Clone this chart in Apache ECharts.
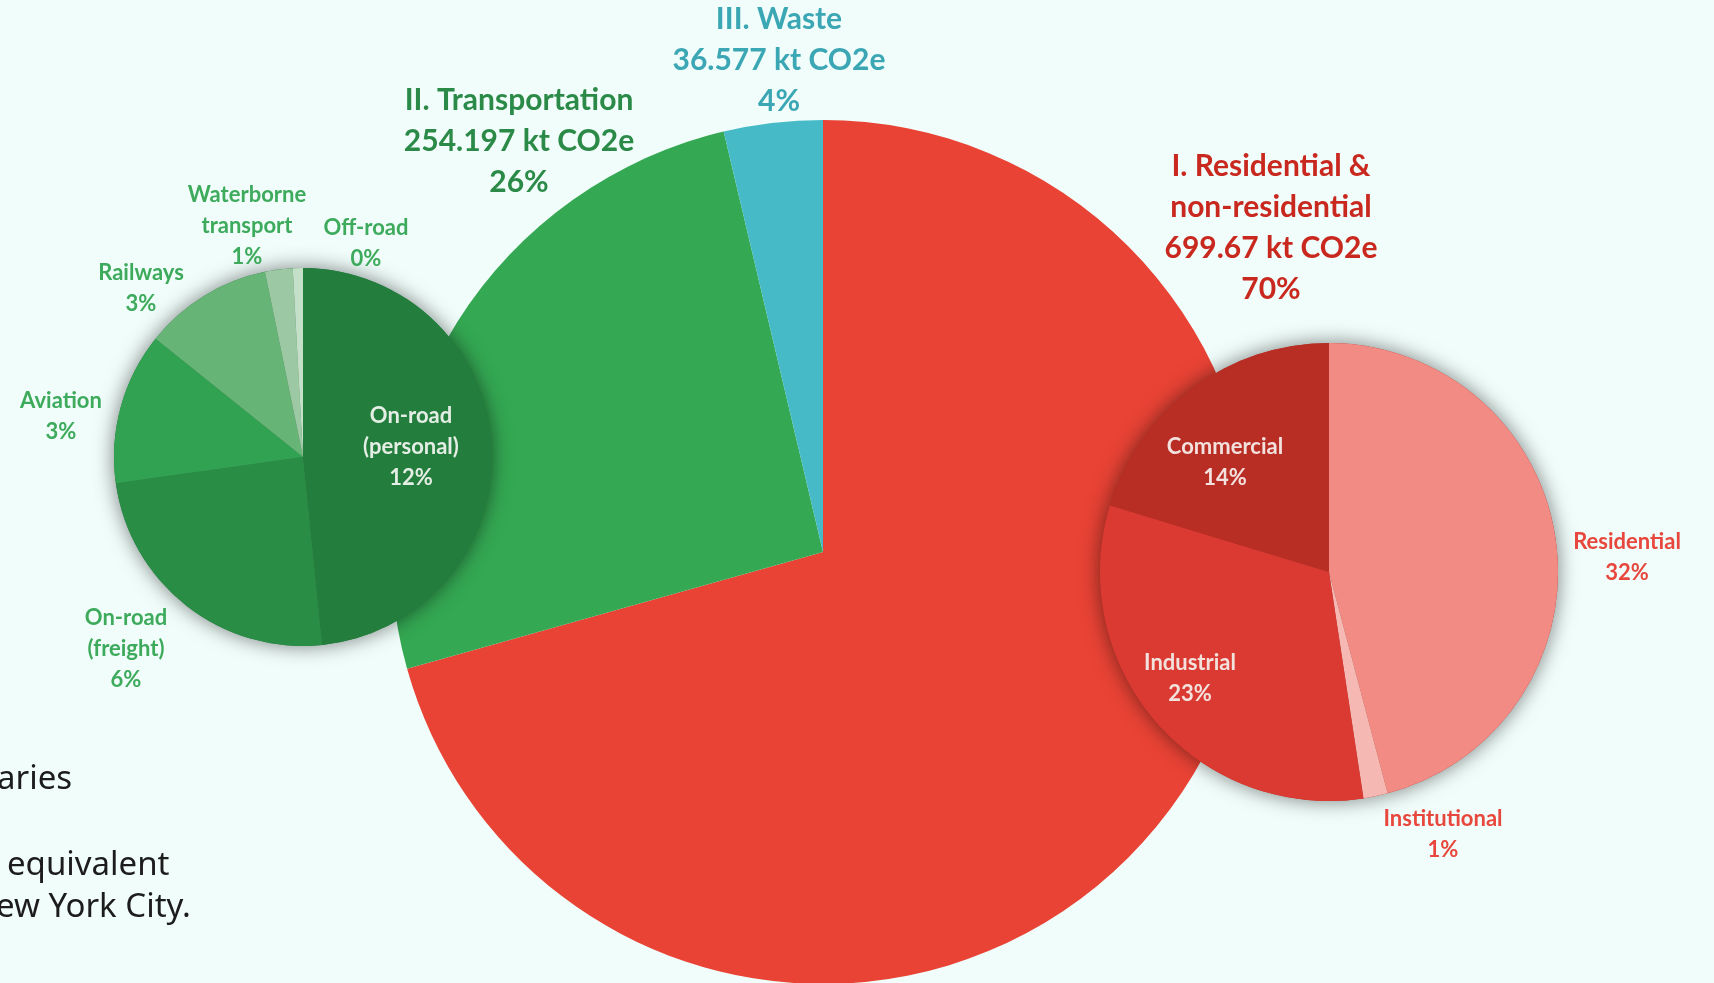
<!DOCTYPE html>
<html>
<head>
<meta charset="utf-8">
<script src="https://cdn.jsdelivr.net/npm/echarts@6/dist/echarts.min.js"></script>
<style>
html,body{margin:0;padding:0;background:#F0FDFA;}
#chart{width:1714px;height:983px;}
</style>
</head>
<body>
<div id="chart"></div>
<script>
// ---- data ----
const mainNames = ['I. Residential &\nnon-residential', 'II. Transportation', 'III. Waste'];
const mainValues = [699.67, 254.197, 36.577];
const mainPct = ['70%', '26%', '4%'];

const transportNames = ['On-road\n(personal)', 'On-road\n(freight)', 'Aviation', 'Railways', 'Waterborne\ntransport', 'Off-road'];
const transportValues = [123, 62, 33, 28, 6, 2.2];
const transportPct = ['12%', '6%', '3%', '3%', '1%', '0%'];

const buildingNames = ['Residential', 'Institutional', 'Industrial', 'Commercial'];
const buildingValues = [321, 12, 224.67, 142];
const buildingPct = ['32%', '1%', '23%', '14%'];

const noteLines = ['aries', 'equivalent', 'ew York City.'];

// ---- styles ----
const mainColors = ['#E94335', '#34A853', '#46BBC7'];
const mainLabelColors = ['#C9281F', '#2B8A47', '#3BA6B4'];
const transportColors = ['#237D3C', '#2A8D46', '#31A251', '#66B476', '#9CC9A3', '#C5E0C9'];
const buildingColors = ['#F28B83', '#F6B8B2', '#DA3A31', '#B82E25'];

const mainLabelPos = [[1271, 228], [519, 141], [779, 60]];
const transportLabelPos = [[411, 447], [126, 649], [61, 416], [141, 288], [247, 226], [366, 243]];
const buildingLabelPos = [[1627, 557], [1443, 834], [1190, 678], [1225, 462]];

const FONT = 'Lato, "Open Sans", sans-serif';
const NOTE_FONT = '400 33px "Noto Sans", sans-serif';

const chart = echarts.init(document.getElementById('chart'), null, {renderer: 'canvas'});

function layoutFrom(pos) {
  return function (p) {
    const xy = pos[p.dataIndex];
    return {x: xy[0], y: xy[1], align: 'center', verticalAlign: 'middle'};
  };
}

const mainData = mainValues.map((v, i) => ({
  name: mainNames[i], value: v,
  itemStyle: {color: mainColors[i]},
  label: {color: mainLabelColors[i]}
}));
const transportData = transportValues.map((v, i) => ({
  name: transportNames[i], value: v,
  itemStyle: {color: transportColors[i]},
  label: {color: i === 0 ? '#E4EEE5' : '#3DAA5C'}
}));
const buildingData = buildingValues.map((v, i) => ({
  name: buildingNames[i], value: v,
  itemStyle: {color: buildingColors[i]},
  label: {color: (i === 2 || i === 3) ? '#F3E1DE' : '#E8473D'}
}));

const common = {
  type: 'pie',
  clockwise: true,
  startAngle: 90,
  avoidLabelOverlap: false,
  labelLine: {show: false},
  emphasis: {disabled: true},
  animation: false
};

const option = {
  backgroundColor: '#F0FDFA',
  animation: false,
  series: [
    Object.assign({}, common, {
      name: 'Total',
      z: 1,
      center: [823, 552],
      radius: 432,
      data: mainData,
      itemStyle: {borderWidth: 0},
      label: {
        show: true, position: 'outside',
        fontFamily: FONT, fontWeight: 'bold', fontSize: 30, lineHeight: 41,
        align: 'center',
        formatter: p => p.name + '\n' + p.value + ' kt CO2e\n' + mainPct[p.dataIndex]
      },
      labelLayout: layoutFrom(mainLabelPos)
    }),
    Object.assign({}, common, {
      name: 'TransportShadow', silent: true, z: 2,
      center: [303, 457], radius: 189,
      data: transportValues.map(v => ({value: v})),
      itemStyle: {color: '#2A7A40', borderWidth: 0, shadowBlur: 20, shadowColor: 'rgba(0,0,0,0.5)'},
      label: {show: false}
    }),
    Object.assign({}, common, {
      name: 'BuildingShadow', silent: true, z: 2,
      center: [1329, 572], radius: 229,
      data: buildingValues.map(v => ({value: v})),
      itemStyle: {color: '#B82E25', borderWidth: 0, shadowBlur: 20, shadowColor: 'rgba(0,0,0,0.5)'},
      label: {show: false}
    }),
    Object.assign({}, common, {
      name: 'Transportation', z: 3,
      center: [303, 457], radius: 189,
      data: transportData,
      itemStyle: {borderWidth: 0},
      label: {
        show: true, position: 'outside',
        fontFamily: FONT, fontWeight: 'bold', fontSize: 22, lineHeight: 31,
        align: 'center',
        formatter: p => p.name + '\n' + transportPct[p.dataIndex]
      },
      labelLayout: layoutFrom(transportLabelPos)
    }),
    Object.assign({}, common, {
      name: 'Residential & non-residential', z: 3,
      center: [1329, 572], radius: 229,
      data: buildingData,
      itemStyle: {borderWidth: 0},
      label: {
        show: true, position: 'outside',
        fontFamily: FONT, fontWeight: 'bold', fontSize: 22, lineHeight: 31,
        align: 'center',
        formatter: p => p.name + '\n' + buildingPct[p.dataIndex]
      },
      labelLayout: layoutFrom(buildingLabelPos)
    })
  ],
  graphic: [
    {type: 'text', left: -3, top: 763, style: {text: noteLines[0], font: NOTE_FONT, fill: '#1c1c1c'}},
    {type: 'text', left: 7, top: 849, style: {text: noteLines[1], font: NOTE_FONT, fill: '#1c1c1c'}},
    {type: 'text', left: -4, top: 891, style: {text: noteLines[2], font: NOTE_FONT, fill: '#1c1c1c'}}
  ]
};

chart.setOption(option);
</script>
</body>
</html>
